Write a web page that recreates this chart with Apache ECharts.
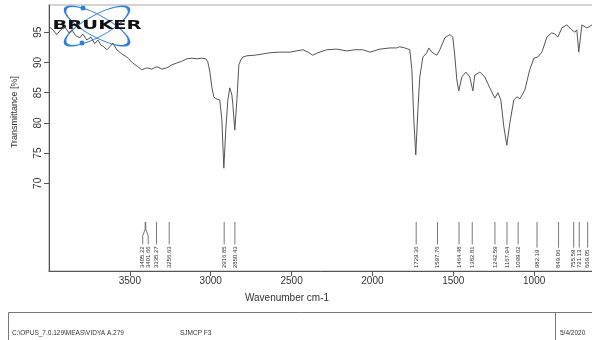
<!DOCTYPE html>
<html>
<head>
<meta charset="utf-8">
<script src="https://cdn.jsdelivr.net/npm/echarts@6/dist/echarts.min.js"></script>
<style>
  html, body { margin: 0; padding: 0; background: #fff; }
  #chart { width: 592px; height: 340px; }
</style>
</head>
<body>
<div id="chart"></div>
<script>
// spectrum (wavenumber cm-1, transmittance %)
const wavenumbers = [3998,3976,3952,3927,3902,3877,3859,3834,3809,3791,
  3766,3741,3717,3698,3680,3661,3642,3624,3605,3581,
  3550,3519,3482,3451,3426,3395,3364,3333,3302,3271,
  3240,3210,3179,3148,3117,3086,3055,3030,3018,3005,
  2993,2981,2968,2956,2944,2931,2919,2907,2894,2882,
  2869,2863,2851,2838,2826,2814,2801,2777,2727,2678,
  2634,2573,2511,2430,2399,2369,2338,2282,2220,2158,
  2109,2059,2016,1954,1892,1849,1831,1800,1769,1756,
  1744,1732,1719,1707,1688,1664,1651,1633,1602,1583,
  1552,1521,1503,1490,1478,1466,1447,1422,1398,1379,
  1367,1336,1305,1274,1243,1224,1206,1187,1169,1150,
  1126,1107,1088,1058,1027,1002,977,952,921,891,
  872,853,829,798,767,748,736,724,705,674,
  643,600,550,500]
const transmittance = [95.9,95.4,94.6,95.4,95.9,94.9,95.4,94.4,94.1,94.7,
  93.7,94.2,93.1,93.7,92.9,92.6,92.1,92.6,93.2,92.1,
  91.4,90.9,89.9,89.3,88.8,89.1,88.9,89.3,88.9,89.1,
  89.6,89.9,90.2,90.6,90.7,90.6,90.7,90.6,90.1,88.4,
  85.9,84.3,84.0,84.3,83.8,80.5,72.5,78.8,83.8,85.8,
  84.6,83.0,78.8,83.8,89.6,90.4,90.9,91.1,91.2,91.4,
  91.6,91.7,91.7,92.1,91.7,91.2,91.6,92.1,92.2,91.9,
  92.1,92.1,91.7,92.2,92.4,92.4,92.6,92.4,92.1,88.8,
  80.5,74.7,82.1,87.6,90.9,91.6,92.4,91.7,91.2,92.1,
  94.1,94.6,94.2,90.9,87.1,85.3,87.6,88.4,87.6,85.3,
  87.9,88.4,87.6,85.8,84.1,85.0,83.8,79.3,76.3,80.0,
  83.8,84.3,84.0,85.4,88.8,90.7,90.9,91.7,94.2,94.9,
  94.7,94.2,95.7,96.2,95.4,95.0,95.4,91.7,96.2,95.7,
  96.2,96.0,95.5,95.0]

// picked peaks
const peakWavenumbers = [3405.22,3401.66,3335.27,3256.63,2916.85,2850.43,1729.36,1597.76,
  1464.48,1382.81,1242.59,1167.94,1099.02,982.19,849.06,755.59,721.13,669.05]
const peakLabels = ['3405.22','3401.66','3335.27','3256.63','2916.85','2850.43','1729.36','1597.76',
  '1464.48','1382.81','1242.59','1167.94','1099.02','982.19','849.06','755.59','721.13','669.05']

const xTicks = [3500, 3000, 2500, 2000, 1500, 1000]
const yTicks = [70, 75, 80, 85, 90, 95]

const FONT = '"Liberation Sans", Arial, sans-serif'
const Y_MIN = 55.5
const Y_MAX = 99.5

const measure = document.createElement('canvas').getContext('2d')
measure.font = '6px "Liberation Sans"'

// spread peak labels so they don't collide, like the OPUS printout does
let labelX = []
function layoutLabels(api) {
  const xs = peakWavenumbers.map((w) => api.coord([w, Y_MIN])[0])
  const p = xs.slice()
  const gap = 5.5
  for (let k = 0; k < 30; k++) {
    for (let i = 1; i < p.length; i++) {
      const d = p[i] - p[i - 1]
      if (d < gap) {
        const o = (gap - d) / 2
        p[i - 1] -= o
        p[i] += o
      }
    }
  }
  labelX = p
}

function renderPeak(params, api) {
  if (params.dataIndex === 0) layoutLabels(api)
  const i = params.dataIndex
  const pt = api.coord([api.value(0), Y_MIN])
  const base = pt[1] - 3
  const lx = labelX[i]
  const text = peakLabels[i]
  const tw = measure.measureText(text).width
  const top = pt[1] - 49
  const bot = base - tw - 2
  const pts = Math.abs(lx - pt[0]) < 0.3
    ? [[pt[0], top], [pt[0], bot]]
    : [[pt[0], top], [pt[0], top + 7], [lx, top + 14], [lx, bot]]
  return {
    type: 'group',
    children: [
      { type: 'polyline', shape: { points: pts }, style: { stroke: '#555', lineWidth: 0.8, fill: null } },
      {
        type: 'text', x: lx, y: base, rotation: Math.PI / 2,
        style: { text: text, fontSize: 6, fontFamily: FONT, fill: '#333', align: 'left', verticalAlign: 'middle' }
      }
    ]
  }
}

const chart = echarts.init(document.getElementById('chart'), null, { renderer: 'canvas' })
chart.setOption({
  animation: false,
  backgroundColor: '#fff',
  grid: {
    left: 49, top: 5, bottom: 69, right: -23,
    show: true, borderColor: '#aaa', borderWidth: 1.2,
    outerBoundsMode: 'none'
  },
  xAxis: {
    type: 'value',
    inverse: true,
    min: 500,
    max: 4000,
    interval: 500,
    axisLine: { show: true, lineStyle: { color: '#555', width: 1 } },
    axisTick: { show: true, length: 5, customValues: xTicks, lineStyle: { color: '#555' } },
    axisLabel: {
      customValues: xTicks, color: '#333', fontSize: 10, margin: 5, fontFamily: FONT,
      formatter: (v) => String(v)
    },
    splitLine: { show: false }
  },
  yAxis: {
    type: 'value',
    min: Y_MIN,
    max: Y_MAX,
    axisLine: { show: true, lineStyle: { color: '#555', width: 1 } },
    axisTick: { show: true, length: 5, customValues: yTicks, lineStyle: { color: '#555' } },
    axisLabel: {
      customValues: yTicks, rotate: 90, color: '#333', fontSize: 10, margin: 6, fontFamily: FONT,
      formatter: (v) => String(v)
    },
    splitLine: { show: false }
  },
  series: [
    {
      type: 'line',
      data: wavenumbers.map((w, i) => [w, transmittance[i]]),
      showSymbol: false,
      silent: true,
      lineStyle: { color: '#555', width: 1 }
    },
    {
      type: 'custom',
      silent: true,
      clip: false,
      data: peakWavenumbers.map((w) => [w, Y_MIN]),
      renderItem: renderPeak
    }
  ],
  graphic: [
    // Bruker logo
    { type: 'circle', x: 97, y: 26, rotation: 0.5, scaleY: 0.3, shape: { cx: 0, cy: 0, r: 36 },
      style: { fill: null, stroke: '#2f7fe0', lineWidth: 1.6, strokeNoScale: true } },
    { type: 'circle', x: 97, y: 26, rotation: -0.5, scaleY: 0.3, shape: { cx: 0, cy: 0, r: 36 },
      style: { fill: null, stroke: '#2f7fe0', lineWidth: 1.6, strokeNoScale: true } },
    { type: 'circle', shape: { cx: 83, cy: 8, r: 2.5 }, style: { fill: '#2f7fe0' } },
    { type: 'circle', shape: { cx: 82, cy: 43, r: 2.5 }, style: { fill: '#2f7fe0' } },
    { type: 'text', x: 97, y: 26, scaleX: 1.5,
      style: { text: 'BRUKER', fontSize: 13, fontWeight: 'bold', fontFamily: '"DejaVu Sans"', fill: '#111',
        align: 'center', verticalAlign: 'middle' } },
    // axis names
    { type: 'text', x: 15, y: 112, rotation: Math.PI / 2,
      style: { text: 'Transmittance [%]', fontSize: 9, fontFamily: FONT, fill: '#333', align: 'center', verticalAlign: 'middle' } },
    { type: 'text', x: 287, y: 298,
      style: { text: 'Wavenumber cm-1', fontSize: 10, fontFamily: FONT, fill: '#333', align: 'center', verticalAlign: 'middle' } },
    // footer box
    { type: 'rect', shape: { x: 8.5, y: 312.5, width: 620, height: 60 }, style: { fill: null, stroke: '#777', lineWidth: 1 } },
    { type: 'line', shape: { x1: 555.5, y1: 312, x2: 555.5, y2: 340 }, style: { stroke: '#777', lineWidth: 1 } },
    { type: 'text', x: 12, y: 333,
      style: { text: 'C:\\OPUS_7.0.129\\MEAS\\VIDYA A.279', fontSize: 6.5, fontFamily: FONT, fill: '#333', verticalAlign: 'middle' } },
    { type: 'text', x: 180, y: 333,
      style: { text: 'SJMCP F3', fontSize: 6.5, fontFamily: FONT, fill: '#333', verticalAlign: 'middle' } },
    { type: 'text', x: 560, y: 333,
      style: { text: '5/4/2020', fontSize: 6.5, fontFamily: FONT, fill: '#333', verticalAlign: 'middle' } }
  ]
})
</script>
</body>
</html>
